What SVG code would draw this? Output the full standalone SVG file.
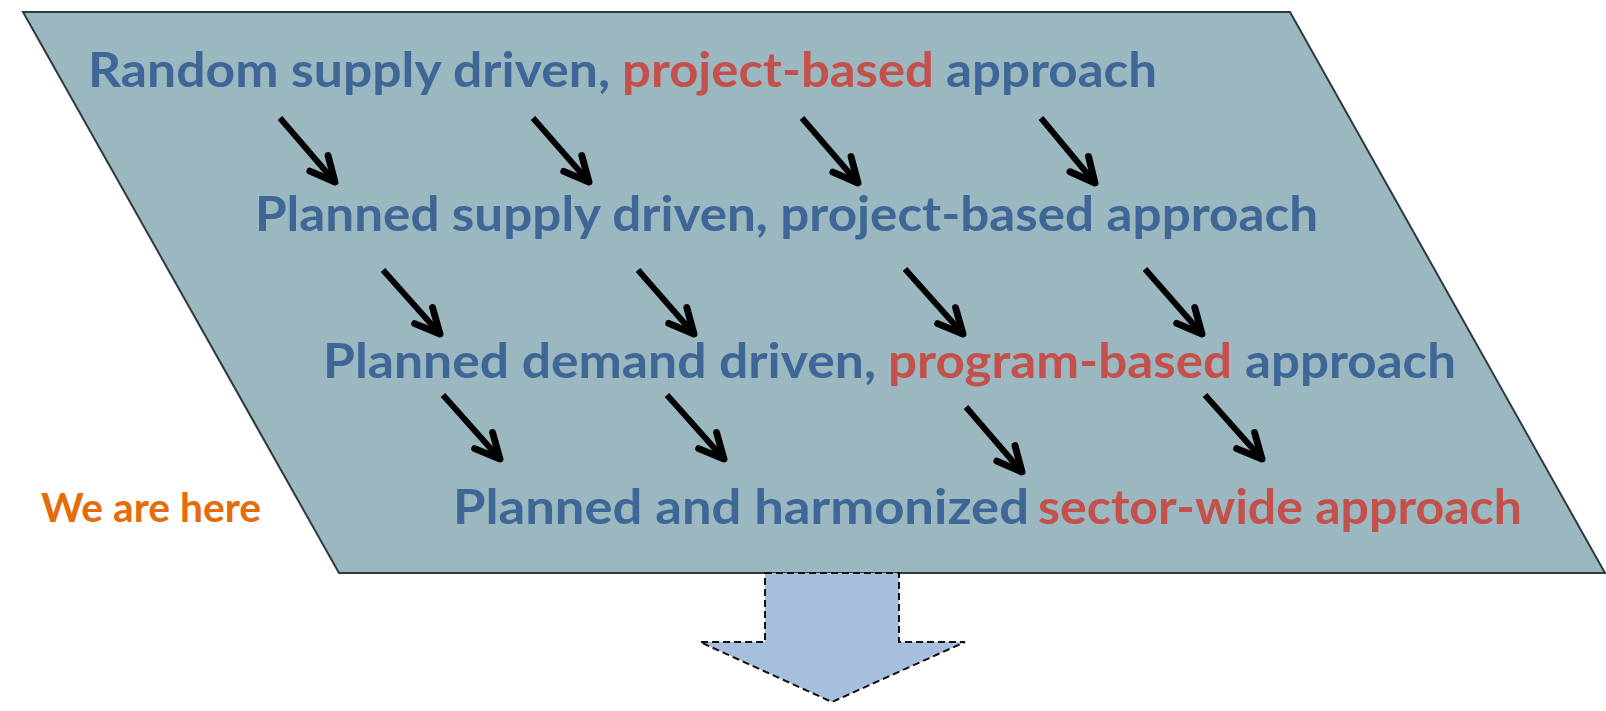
<svg xmlns="http://www.w3.org/2000/svg" width="1606" height="711" viewBox="0 0 1606 711">
<style>
.t{font-family:Lato,"Open Sans","Liberation Sans",sans-serif;font-weight:bold;font-size:48px}
.b{fill:#3e6797}
.r{fill:#c4504c}
.o{fill:#e46c0a}
.ar{stroke:#000;stroke-width:6;fill:none;marker-end:url(#h)}
</style>
<defs>
<marker id="h" viewBox="-1 -1 12 12" markerUnits="userSpaceOnUse" markerWidth="36" markerHeight="36" refX="9.5" refY="5" orient="auto">
<path d="M1.3,1 L9.5,5 L1.3,9" fill="none" stroke="#000" stroke-width="2.3" stroke-linejoin="round" stroke-linecap="round"/>
</marker>
</defs>
<rect width="1606" height="711" fill="#fff"/>
<g id="panel">
<polygon points="23,12 1290,12 1605,573 339,573" fill="#9bb7bf" stroke="#2e3b3d" stroke-width="2"/>
</g>
<g id="down-arrow">
<polygon points="765,573 899,573 899,642 965,642 832,702 700,642 765,642" fill="#a6bfdc" stroke="#111" stroke-width="2" stroke-dasharray="7,4"/>
</g>
<g id="line1">
<text class="t b" x="88" y="87" textLength="522" lengthAdjust="spacingAndGlyphs">Random supply driven,</text>
<text class="t r" x="622" y="87" textLength="312" lengthAdjust="spacingAndGlyphs">project-based</text>
<text class="t b" x="946" y="87" textLength="211" lengthAdjust="spacingAndGlyphs">approach</text>
</g>
<g id="line2">
<text class="t b" x="255" y="231" textLength="1063" lengthAdjust="spacingAndGlyphs">Planned supply driven, project-based approach</text>
</g>
<g id="line3">
<text class="t b" x="323" y="378" textLength="553" lengthAdjust="spacingAndGlyphs">Planned demand driven,</text>
<text class="t r" x="888" y="378" textLength="344" lengthAdjust="spacingAndGlyphs">program-based</text>
<text class="t b" x="1245" y="378" textLength="211" lengthAdjust="spacingAndGlyphs">approach</text>
</g>
<g id="line4">
<text class="t b" x="453" y="524" textLength="576" lengthAdjust="spacingAndGlyphs">Planned and harmonized</text>
<text class="t r" x="1038" y="524" textLength="484" lengthAdjust="spacingAndGlyphs">sector-wide approach</text>
</g>
<g id="we-are-here">
<text class="t o" x="41" y="522" textLength="220" lengthAdjust="spacingAndGlyphs" style="font-size:41px">We are here</text>
</g>
<g id="connectors">
<line class="ar" x1="280" y1="118" x2="335" y2="182"/>
<line class="ar" x1="533" y1="118" x2="589" y2="182"/>
<line class="ar" x1="802" y1="118" x2="858" y2="183"/>
<line class="ar" x1="1041" y1="118" x2="1095" y2="183"/>
<line class="ar" x1="383" y1="270" x2="440" y2="334"/>
<line class="ar" x1="638" y1="270" x2="694" y2="334"/>
<line class="ar" x1="905" y1="269" x2="963" y2="334"/>
<line class="ar" x1="1145" y1="269" x2="1202" y2="334"/>
<line class="ar" x1="443" y1="395" x2="500" y2="459"/>
<line class="ar" x1="667" y1="395" x2="724" y2="459"/>
<line class="ar" x1="966" y1="407" x2="1022" y2="472"/>
<line class="ar" x1="1205" y1="395" x2="1262" y2="459"/>
</g>
</svg>
